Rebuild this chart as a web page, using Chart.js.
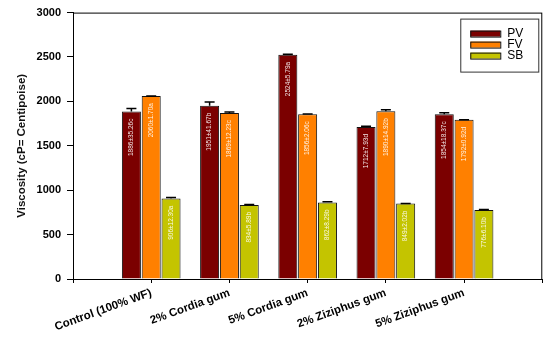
<!DOCTYPE html>
<html>
<head>
<meta charset="utf-8">
<script src="https://cdn.jsdelivr.net/npm/chart.js@4/dist/chart.umd.min.js"></script>
<style>
  body { margin: 0; background: #fff; }
  #wrap { width: 550px; height: 337px; }
</style>
</head>
<body>
<div id="wrap"><canvas id="viscChart"></canvas></div>
<script>
// categories (empty slots at both ends keep the gap from the axes)
const categories = ["", "Control (100% WF)", "2% Cordia gum", "5% Cordia gum", "2% Ziziphus gum", "5% Ziziphus gum", ""];

const pvValues = [1886, 1951, 2524, 1712, 1854];
const fvValues = [2060, 1869, 1856, 1890, 1792];
const sbValues = [906, 834, 862, 849, 776];

const pvErr = [35.26, 41.67, 5.79, 7.93, 18.37];
const fvErr = [1.70, 12.23, 2.06, 14.92, 0.92];
const sbErr = [12.30, 5.89, 8.29, 2.02, 6.10];

const pvLetters = ["c", "b", "a", "d", "c"];
const fvLetters = ["a", "c", "c", "b", "d"];
const sbLetters = ["a", "b", "b", "b", "b"];

const yTicks = [0, 500, 1000, 1500, 2000, 2500, 3000];

function pad(arr) {
  return [null].concat(arr, [null]);
}

function makeSet(label, values, errs, letters, color) {
  return {
    label: label,
    data: pad(values),
    errs: pad(errs),
    tags: pad(values.map((v, i) => v + "±" + errs[i].toFixed(2) + letters[i])),
    backgroundColor: color,
    borderColor: "#111",
    borderWidth: 1,
    categoryPercentage: 0.76,
    barPercentage: 0.96
  };
}

// error bars (upper only, with cap)
const errorBars = {
  id: "errorBars",
  afterDatasetsDraw(chart) {
    const ctx = chart.ctx;
    const y = chart.scales.y;
    ctx.save();
    ctx.strokeStyle = "#000";
    ctx.lineWidth = 1.5;
    chart.data.datasets.forEach((ds, di) => {
      chart.getDatasetMeta(di).data.forEach((bar, i) => {
        if (ds.data[i] == null) return;
        const top = y.getPixelForValue(ds.data[i]);
        const hi = y.getPixelForValue(ds.data[i] + ds.errs[i]);
        ctx.beginPath();
        ctx.moveTo(bar.x, top);
        ctx.lineTo(bar.x, hi);
        ctx.moveTo(bar.x - 5, hi);
        ctx.lineTo(bar.x + 5, hi);
        ctx.stroke();
      });
    });
    ctx.restore();
  }
};

// rotated value labels inside the bars
const barTags = {
  id: "barTags",
  afterDatasetsDraw(chart) {
    const ctx = chart.ctx;
    ctx.save();
    ctx.font = "6.5px Arial, 'Liberation Sans', sans-serif";
    ctx.fillStyle = "rgba(255,255,255,0.9)";
    ctx.textAlign = "right";
    ctx.textBaseline = "middle";
    chart.data.datasets.forEach((ds, di) => {
      chart.getDatasetMeta(di).data.forEach((bar, i) => {
        if (ds.data[i] == null) return;
        ctx.save();
        ctx.translate(bar.x, bar.y + 7);
        ctx.rotate(-Math.PI / 2);
        ctx.fillText(ds.tags[i], 0, 0);
        ctx.restore();
      });
    });
    ctx.restore();
  }
};

// frame around plot + boxed legend in upper right
const frameAndLegend = {
  id: "frameAndLegend",
  afterDraw(chart) {
    const ctx = chart.ctx;
    const a = chart.chartArea;
    ctx.save();
    ctx.strokeStyle = "#000";
    ctx.lineWidth = 1;
    ctx.strokeRect(a.left + 0.5, a.top + 0.5, a.right - a.left - 1, a.bottom - a.top);

    const bx = a.right - 82, by = a.top + 6;
    ctx.strokeStyle = "#333";
    ctx.strokeRect(bx + 0.5, by + 0.5, 78, 53);
    ctx.font = "12px Arial, 'Liberation Sans', sans-serif";
    ctx.textBaseline = "middle";
    chart.data.datasets.forEach((ds, i) => {
      const sy = by + 12 + i * 11;
      ctx.fillStyle = ds.backgroundColor;
      ctx.fillRect(bx + 10, sy, 30, 6);
      ctx.strokeStyle = "#111";
      ctx.strokeRect(bx + 10.5, sy + 0.5, 30, 6);
      ctx.fillStyle = "#000";
      ctx.fillText(ds.label, bx + 47, sy + 3.5);
    });
    ctx.restore();
  }
};

new Chart(document.getElementById("viscChart"), {
  type: "bar",
  data: {
    labels: categories,
    datasets: [
      makeSet("PV", pvValues, pvErr, pvLetters, "#7b0000"),
      makeSet("FV", fvValues, fvErr, fvLetters, "#ff8000"),
      makeSet("SB", sbValues, sbErr, sbLetters, "#c4c400")
    ]
  },
  options: {
    responsive: true,
    maintainAspectRatio: false,
    animation: false,
    layout: { padding: { top: 10, right: 5, left: 0, bottom: 0 } },
    plugins: {
      legend: { display: false },
      tooltip: { enabled: false }
    },
    scales: {
      x: {
        offset: false,
        grid: { offset: false, drawOnChartArea: false, drawTicks: true, tickLength: 4, color: "#000" },
        border: { display: true, color: "#000" },
        ticks: {
          autoSkip: false,
          minRotation: 20,
          maxRotation: 20,
          padding: 3,
          color: "#000",
          font: { family: "Arial, 'Liberation Sans', sans-serif", size: 11.5, weight: "bold" }
        },
        afterFit(s) { s.height = 58; }
      },
      y: {
        min: 0,
        max: 3000,
        afterBuildTicks(s) { s.ticks = yTicks.map(v => ({ value: v })); },
        grid: { drawOnChartArea: false, drawTicks: true, tickLength: 6, color: "#000" },
        border: { display: true, color: "#000" },
        ticks: {
          padding: 6,
          color: "#000",
          callback: v => String(v),
          font: { family: "Arial, 'Liberation Sans', sans-serif", size: 11, weight: "bold" }
        },
        title: {
          display: true,
          text: "Viscosity (cP= Centipoise)",
          color: "#111",
          padding: { top: 15, bottom: 0 },
          font: { family: "Arial, 'Liberation Sans', sans-serif", size: 11.5, weight: "bold" }
        },
        afterFit(s) { s.width = 73; }
      }
    }
  },
  plugins: [errorBars, barTags, frameAndLegend]
});
</script>
</body>
</html>
